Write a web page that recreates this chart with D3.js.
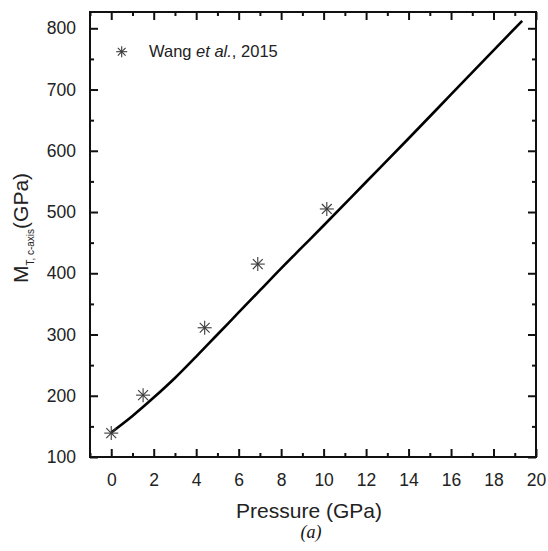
<!DOCTYPE html>
<html><head><meta charset="utf-8">
<script src="https://cdn.jsdelivr.net/npm/d3@7"></script>
<style>body{margin:0;background:#fff}svg{display:block}</style>
</head><body>
<svg id="c" width="548" height="551"></svg>
<script>
// Data
const curveP = [0, 1, 2, 3, 4, 5, 6, 7, 8, 9, 10, 12, 14, 16, 18, 19.35];
const curveM = [140, 167, 197, 229, 264, 300, 336, 372, 408, 443, 478, 549, 620, 692, 764, 812];
const wangP = [0, 1.5, 4.4, 6.9, 10.15];
const wangM = [139, 201, 311, 415, 505];
const xTicks = [0, 2, 4, 6, 8, 10, 12, 14, 16, 18, 20];
const yTicks = [100, 200, 300, 400, 500, 600, 700, 800];

const svg = d3.select("#c");
const L = 90, R = 536, T = 12, B = 457;
const x = d3.scaleLinear().domain([-1, 20]).range([L, R]);
const y = d3.scaleLinear().domain([100, 826.6]).range([B, T]);
const font = "Liberation Sans, Arial, sans-serif";

const xMinor = d3.range(-1, 20.01, 1).filter(v => v % 2 !== 0);
const yMinor = d3.range(150, 826, 100);

function styleAxis(g) {
  g.select(".domain").remove();
  g.selectAll(".tick line").attr("stroke", "#111").attr("stroke-width", 2);
  g.selectAll(".tick text").attr("font-family", font).attr("font-size", 17.5).attr("fill", "#222");
}
// bottom
svg.append("g").attr("transform", `translate(0,${B})`)
  .call(d3.axisBottom(x).tickValues(xTicks).tickSize(-8).tickPadding(17).tickFormat(d3.format("d"))).call(styleAxis);
svg.append("g").attr("transform", `translate(0,${B})`)
  .call(d3.axisBottom(x).tickValues(xMinor).tickSize(-4).tickFormat("")).call(styleAxis);
// top
svg.append("g").attr("transform", `translate(0,${T})`)
  .call(d3.axisTop(x).tickValues(xTicks).tickSize(-8).tickFormat("")).call(styleAxis);
svg.append("g").attr("transform", `translate(0,${T})`)
  .call(d3.axisTop(x).tickValues(xMinor).tickSize(-4).tickFormat("")).call(styleAxis);
// left
svg.append("g").attr("transform", `translate(${L},0)`)
  .call(d3.axisLeft(y).tickValues(yTicks).tickSize(-8).tickPadding(14).tickFormat(d3.format("d"))).call(styleAxis);
svg.append("g").attr("transform", `translate(${L},0)`)
  .call(d3.axisLeft(y).tickValues(yMinor).tickSize(-4).tickFormat("")).call(styleAxis);
// right
svg.append("g").attr("transform", `translate(${R},0)`)
  .call(d3.axisRight(y).tickValues(yTicks).tickSize(-8).tickFormat("")).call(styleAxis);
svg.append("g").attr("transform", `translate(${R},0)`)
  .call(d3.axisRight(y).tickValues(yMinor).tickSize(-4).tickFormat("")).call(styleAxis);

// frame
svg.append("rect").attr("x", L).attr("y", T).attr("width", R - L).attr("height", B - T)
  .attr("fill", "none").attr("stroke", "#111").attr("stroke-width", 2);

// curve
const line = d3.line().x((d, i) => x(curveP[i])).y((d, i) => y(curveM[i])).curve(d3.curveCatmullRom.alpha(0.5));
svg.append("path").datum(curveP).attr("d", line).attr("fill", "none")
  .attr("stroke", "#000").attr("stroke-width", 2.6);

// asterisk marker
function star(g, cx, cy, r) {
  const s = g.append("g").attr("transform", `translate(${cx},${cy})`)
    .attr("stroke", "#3a3a3a").attr("stroke-width", 1.1);
  [0, 45, 90, 135].forEach(a => {
    const rad = a * Math.PI / 180;
    s.append("line").attr("x1", -r * Math.cos(rad)).attr("y1", -r * Math.sin(rad))
      .attr("x2", r * Math.cos(rad)).attr("y2", r * Math.sin(rad));
  });
}
wangP.forEach((p, i) => star(svg, x(p), y(wangM[i]), 7));

// legend
star(svg, 121.7, 51.7, 5.5);
const lt = svg.append("text").attr("x", 149).attr("y", 57).attr("font-family", font)
  .attr("font-size", 16.5).attr("fill", "#222");
lt.append("tspan").text("Wang ");
lt.append("tspan").attr("font-style", "italic").text("et al.");
lt.append("tspan").text(", 2015");

// x title
svg.append("text").attr("x", 309).attr("y", 518).attr("text-anchor", "middle")
  .attr("font-family", font).attr("font-size", 21).attr("fill", "#222").text("Pressure (GPa)");
// (a)
svg.append("text").attr("x", 311).attr("y", 538).attr("text-anchor", "middle")
  .attr("font-family", "Liberation Serif, Times New Roman, serif").attr("font-style", "italic")
  .attr("font-size", 18).attr("fill", "#111").text("(a)");

// y title
const yt = svg.append("text").attr("transform", "translate(28,228) rotate(-90)")
  .attr("text-anchor", "middle").attr("font-family", font).attr("font-size", 21).attr("fill", "#222");
yt.append("tspan").text("M");
yt.append("tspan").attr("font-size", 10).attr("dy", 6).text("T, c-axis");
yt.append("tspan").attr("dy", -6).text("(GPa)");
</script>
</body></html>
